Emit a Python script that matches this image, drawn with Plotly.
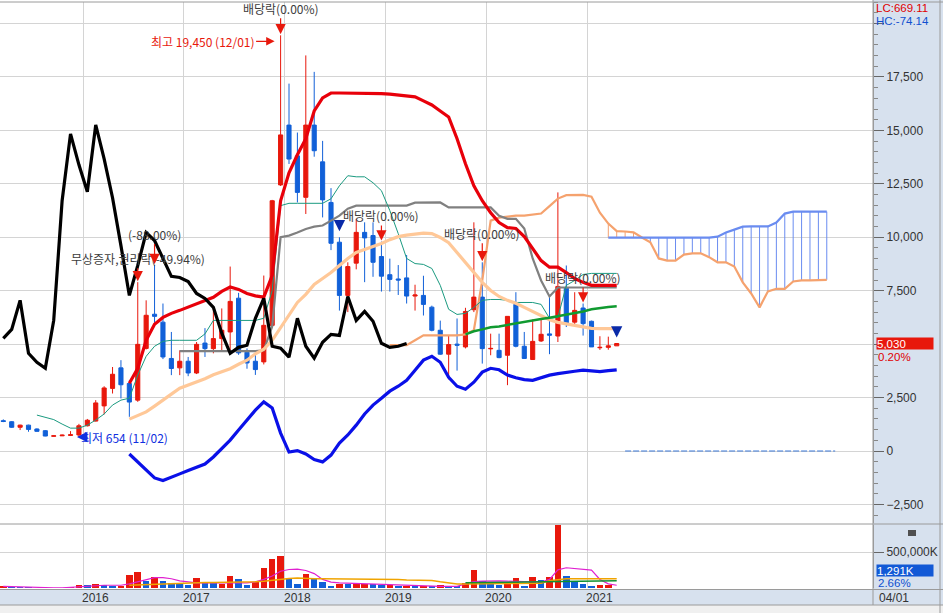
import plotly.graph_objects as go
import pandas as pd

# ---------------- data (monthly, 2015-03 .. 2021-04) ----------------
months = pd.period_range("2015-03", "2021-04", freq="M").strftime("%Y-%m").tolist()
n = len(months)
idx = list(range(n))

opens = [1420,1370,1110,1210,1030,950,690,710,730,750,
         1180,1400,2110,2930,3890,3160,2380,4800,6400,6030,
         4330,3890,4200,3650,5050,4790,5260,5570,7150,4620,
         4200,4170,5880,12450,15250,13810,11870,15250,13530,11630,
         9770,7280,8790,10230,10080,9100,8250,8050,8100,7250,
         7280,6730,5650,4530,5000,4870,6610,7200,4780,4710,
         4480,6860,4900,4280,5150,5480,5380,7620,6030,6690,
         6070,4830,4850,4920]
highs = [1480,1400,1230,1230,1060,980,740,770,930,1270,
         1500,2380,3030,3930,4250,3310,7900,7050,8700,6900,
         5570,4710,4400,5100,5750,6670,6670,8630,7400,4800,
         4600,8210,11750,19450,17190,14900,18510,17740,14510,12300,
         10000,8830,10860,10700,10700,9800,9000,8700,9170,7780,
         8200,6800,6100,5400,6200,6700,10700,8830,5490,5490,
         6300,7430,5570,6150,6200,7200,12100,8680,7430,6900,
         6100,5370,5350,5030]
lows = [1350,1080,980,900,900,690,680,700,700,654,
        1150,1380,1710,2690,2460,1600,2300,4750,6000,4300,
        3550,3550,3500,3600,4400,4570,4700,4710,4500,3850,
        3560,4050,5800,12400,13430,11630,11090,13770,10930,9400,
        6570,6500,8500,7900,8150,7460,7460,7300,6900,6570,
        6340,5600,4500,3350,3760,4800,6500,4090,4480,4340,
        3080,4850,4330,4280,5100,4530,5100,5800,5900,5400,
        4870,4730,4740,4920]
closes = [1380,1110,1210,1010,920,700,710,740,760,1180,
          1440,2250,2950,3590,3100,2290,4990,6350,6300,4400,
          3860,4200,3650,4990,4790,5260,5650,7000,4590,4120,
          3810,5880,11710,14790,13660,12100,15250,14050,11750,9720,
          7280,8630,10230,9970,8830,8180,8030,8000,7250,7300,
          6860,5650,4530,4980,4950,6530,7200,4790,4800,4370,
          6300,4900,4330,5130,5460,5420,7700,5930,6580,5960,
          4870,4850,4920,5030]

# volume (thousand shares) and bar colour as shown (U = red, D = blue)
volumes = [23800,19000,9500,9500,2000,2000,2000,4000,19000,47600,
           47600,61900,42900,23800,33300,176000,219000,100000,147600,90500,
           76200,52400,38100,133300,71400,71400,52400,161900,119000,47600,
           85700,276000,404800,438100,119000,61900,190500,119000,81000,33300,
           61900,52400,57100,52400,52400,42900,42900,28600,23800,23800,
           28600,23800,38100,23800,23800,76200,247600,95200,57100,38100,
           71400,142900,33300,157100,114300,157100,871400,161900,90500,52400,
           33300,47600,42900,1291]
volume_dir = list("UDDDDDUUUU" "DUDDUUUDUD" "DDDUDDUUDD" "UUUUDDUDDD"
                  "UDUUDDUDUD" "UDUDDUUDDD" "UUDUDUUDDD" "DUUD")
vol_ma_short = [23800,19000,14300,9500,2000,2000,2000,2000,9500,23800,
                28600,33300,38100,38100,38100,57100,85700,119000,142900,142900,
                128600,100000,81000,71400,71400,71400,71400,71400,71400,71400,
                85700,119000,166700,233300,257100,261900,242900,200000,119000,81000,
                71400,66700,61900,57100,54800,52400,47600,42900,38100,33300,
                28600,23800,23800,23800,23800,57100,90500,95200,100000,100000,
                95200,92900,90500,85700,81000,119000,252400,281000,271400,261900,
                247600,119000,57100,38100]
vol_ma_long_start = 15
vol_ma_long = [38100,42900,47600,52400,57100,61900,66700,
               76200,76200,76200,76200,76200,76200,
               85700,85700,85700,95200,109500,123800,133300,138000,
               128600,128600,128600,128600,128600,128600,128600,128600,128600,
               119000,119000,119000,109500,104800,104800,104800,85700,66700,
               57100,57100,57100,57100,57100,57100,57100,57100,57100,
               66700,66700,100000,119000,
               128600,128600,128600,128600,128600,128600,128600]
vol_ma_3_months = ["2019-10", "2020-04", "2020-08", "2021-04"]
vol_ma_3 = [71400, 81000, 90500, 100000]

# lagging line (starts 2015-03)
lagging = [5270,5690,7050,4570,4150,3870,6110,11710,14840,13390,
           12130,15260,13670,11850,9610,7280,8680,10220,9850,9050,
           8170,8120,7930,7370,7140,6720,5510,4570,4850,4950,
           6210,7140,4900,4810,4390,6210,4900,4340,5090,5460,
           5410,7230,6110,6530,6070,5040,4850,4900,5030]
# conversion line (starts 2015-07)
conv_start = 4
conversion = [1680,1560,1470,1260,1070,1070,1210,1450,1730,2150,
              2380,2470,3550,4430,4900,5130,5180,5180,5180,5180,
              5480,6110,6110,6110,6110,6110,6110,6210,7510,11480,
              11590,11590,11590,11590,11590,11800,12410,12880,12830,12830,
              12550,12180,11250,10170,9010,8770,8730,8540,7750,6630,
              6390,6440,6720,7050,7090,7090,7050,6950,6950,6950,
              6860,6210,6250,7750,7980,8260,8310,8310,8310,8310]
# base line (starts 2016-12)
base_start = 21
base_line = [4670]*10 + [4710,5830,10000,10080,10220,10390,10500,10550,10780,11010,11340] \
            + [11480]*7 + [11620,11630,11630,11630] + [11400]*6 \
            + [11010,10860,10860,10410,9010,7980,7230] + [7650]*8
# bands (start 2016-06)
band_start = 15
band_upper = [3170,3870,5180,5930,6250,6440,6580,6740,6910,7050,7190,7470,7670,7560,7370,7260,7200,8210,
              11710,13020,13860,14610,15910,16520,16750,16750,16750,16750,16750,16750,16720,16700,16660,16610,16570,16380,
              16190,15910,15630,14610,13440,12410,11710,11150,10690,10450,10410,10030,9470,8910,8600,8600,8350,8070,7890,7750,7750,7750,7750]
band_mid = [1490,1660,1830,2100,2400,2660,2940,3080,3220,3380,3570,3710,3850,4060,4250,4550,4760,5180,
            5790,6350,6950,7330,7790,8070,8350,8680,9010,9290,9430,9570,9710,9890,10030,10100,10150,10190,
            10170,9990,9750,9290,8820,8400,7890,7510,7230,7050,6910,6720,6530,6350,6140,6020,5950,5900,5830,5740,5730,5730,5730]
band_lower = [-140,-510,-840,-1260,-1380,-1240,-1070,-910,-750,-610,-280,90,510,980,1450,1910,2300,2010,
              840,-50,20,-140,-400,-510,-190,370,750,1210,1730,2150,2470,2800,3030,3310,3780,4250,
              4430,4150,3450,3030,2890,3220,3690,3870,3800,3550,3430,3340,3310,3430,3550,3620,3690,3730,3780,3730,3710,3760,3800]
# long moving average (starts 2019-10)
ma_long_start = 55
ma_long = [5460,5600,5690,5790,5830,5900,6000,6070,6140,6180,6230,6300,6390,6460,6530,6630,6700,6740,6770]
# leading span B (starts 2019-01, runs into the future)
spanB_start = 46
spanB = [4950,4950,4950,5180,5410,5410,5410,5410,5410,5460,5650,
         7980,10780,10920,10970,11010,11010,11060,11110,11460,11810,11970,11980,11980,11900,11150,10640,10290,
         10270,10230,9990,9770,9010,8910,8910,9190,9250,9250,9070,8830,8830,8630,7890,7370,6720,7470,7590,7590,
         7930,7980,7980,7980,8010]
# leading span A (future part only, starts 2021-03)
spanA_start = 72
spanA = [9980]*13 + [10030,10220,10360,10500,10510,10510,10510,10690,11110] + [11200]*5
zero_dash_value = 0
zero_dash_span = (74, 99)

years = ["2016", "2017", "2018", "2019", "2020", "2021"]
price_ticks = [-2500, 0, 2500, 5000, 7500, 10000, 12500, 15000, 17500, 20000]
hidden_tick_labels = (5000, 20000)

# markers
events = [(33, "배당락(0.00%)", -27), (16, "무상증자,권리락(-49.94%)", -24), (18, "(-88.00%)", -31),
          (45, "배당락(0.00%)", -26), (57, "배당락(0.00%)", -29), (69, "배당락(0.00%)", -26)]
sell_signals = [40, 73]
buy_signals = [32, 66]

# ---------------- layout geometry ----------------
W, H = 943, 613
ML, MR, MT, MB = 0, 70, 2, 25
PW, PH = W - ML - MR, H - MT - MB
BOTTOM_Y = H - MB


def px(X):
    return X / PW


def py(Y):
    return (BOTTOM_Y - Y) / PH


RED = "#e8180c"
BLUE = "#1160d8"
KFONT = "Noto Sans CJK KR"
NFONT = "Liberation Sans"

fig = go.Figure()


def rng(start, vals):
    return list(range(start, start + len(vals)))


# cloud hatch
ho_x, ho_y, hb_x, hb_y = [], [], [], []
for k, a in enumerate(spanA):
    i = spanA_start + k
    b = spanB[i - spanB_start]
    if abs(a - b) < 30:
        continue
    if b > a:
        ho_x += [i, i, None]; ho_y += [a, b, None]
    else:
        hb_x += [i, i, None]; hb_y += [a, b, None]
fig.add_trace(go.Scatter(x=ho_x, y=ho_y, mode="lines", line=dict(color="#f4a070", width=1)))
fig.add_trace(go.Scatter(x=hb_x, y=hb_y, mode="lines", line=dict(color="#6a8cf0", width=1)))

fig.add_trace(go.Scatter(x=rng(spanB_start, spanB), y=spanB, mode="lines", line=dict(color="#f5a26e", width=2.2)))
fig.add_trace(go.Scatter(x=rng(spanA_start, spanA), y=spanA, mode="lines", line=dict(color="#6a8cf0", width=2.2)))
fig.add_trace(go.Scatter(x=list(zero_dash_span), y=[zero_dash_value]*2, mode="lines",
                         line=dict(color="#3a78d8", width=1, dash="6px,2px")))
fig.add_trace(go.Scatter(x=rng(base_start, base_line), y=base_line, mode="lines", line=dict(color="#808080", width=2.2)))
fig.add_trace(go.Scatter(x=rng(conv_start, conversion), y=conversion, mode="lines", line=dict(color="#1a9a80", width=1)))
fig.add_trace(go.Scatter(x=rng(band_start, band_mid), y=band_mid, mode="lines", line=dict(color="#ffc898", width=3.2)))
fig.add_trace(go.Scatter(x=rng(band_start, band_upper), y=band_upper, mode="lines", line=dict(color="#e8000a", width=3.2)))
fig.add_trace(go.Scatter(x=rng(band_start, band_lower), y=band_lower, mode="lines", line=dict(color="#0a10e8", width=3.2)))
fig.add_trace(go.Scatter(x=rng(ma_long_start, ma_long), y=ma_long, mode="lines", line=dict(color="#109a30", width=2.5)))
fig.add_trace(go.Scatter(x=rng(0, lagging), y=lagging, mode="lines", line=dict(color="#000000", width=3.2)))

fig.add_trace(go.Candlestick(
    x=idx, open=opens, high=highs, low=lows, close=closes,
    increasing=dict(line=dict(color=RED, width=1), fillcolor=RED),
    decreasing=dict(line=dict(color=BLUE, width=1), fillcolor=BLUE),
    whiskerwidth=0, yaxis="y"))

# volume panel
vcol = [RED if d == "U" else BLUE for d in volume_dir]
fig.add_trace(go.Bar(x=idx, y=volumes, marker=dict(color=vcol, line=dict(width=0)), width=0.78, yaxis="y2"))
fig.add_trace(go.Scatter(x=idx, y=vol_ma_short, mode="lines", line=dict(color="#e020d0", width=1.2), yaxis="y2"))
fig.add_trace(go.Scatter(x=rng(vol_ma_long_start, vol_ma_long), y=vol_ma_long, mode="lines",
                         line=dict(color="#f0a400", width=1.5), yaxis="y2"))
fig.add_trace(go.Scatter(x=[months.index(m) for m in vol_ma_3_months], y=vol_ma_3, mode="lines",
                         line=dict(color="#109030", width=1.5), yaxis="y2"))

year_pos = [months.index(y + "-01") - 0.5 for y in years]

annotations = []
for i, label, ay in events:
    annotations.append(dict(x=i, y=highs[i], xref="x", yref="y", text=label, showarrow=True, ax=0, ay=ay,
                            arrowhead=2, arrowsize=1.7, arrowwidth=1.2, arrowcolor=RED, standoff=1,
                            font=dict(family=KFONT, size=12, color="#3c3c3c")))
for i in sell_signals:
    annotations.append(dict(x=i, y=highs[i], xref="x", yref="y", text="", showarrow=True, ax=0, ay=-11,
                            arrowhead=2, arrowsize=0.75, arrowwidth=3, arrowcolor="#0a2aa8", standoff=6))
for i in buy_signals:
    annotations.append(dict(x=i, y=lows[i], xref="x", yref="y", text="", showarrow=True, ax=0, ay=11,
                            arrowhead=2, arrowsize=0.75, arrowwidth=3, arrowcolor="#d8102c", standoff=8))
hi_i = highs.index(max(highs))
annotations.append(dict(x=hi_i, y=highs[hi_i], xref="x", yref="y", yshift=-6,
                        text=f"최고 {max(highs):,} (12/01)", showarrow=True, ax=-78, ay=0,
                        arrowhead=2, arrowsize=1.4, arrowwidth=1.2, arrowcolor=RED, standoff=6,
                        font=dict(family=KFONT, size=12, color=RED)))
lo_i = lows.index(min(lows))
annotations.append(dict(x=lo_i, y=lows[lo_i], xref="x", yref="y", xshift=-2,
                        text=f"최저 {min(lows):,} (11/02)", showarrow=True, ax=48, ay=0,
                        arrowhead=2, arrowsize=1.4, arrowwidth=1.5, arrowcolor="#1030e0", standoff=0,
                        font=dict(family=KFONT, size=12, color="#1030e0")))
for yp, yl in zip(year_pos, years):
    annotations.append(dict(x=yp, y=py(598), xref="x", yref="paper", text=yl, showarrow=False,
                            xanchor="left", yanchor="middle", xshift=-3,
                            font=dict(family=NFONT, size=12, color="#333")))
# right-axis info
last = closes[-1]
chg_pct = 0.20
small = dict(family=NFONT, size=11.5)
annotations += [
    dict(x=px(PW + 1), y=py(8), xref="paper", yref="paper", text="LC:669.11", showarrow=False,
         xanchor="left", yanchor="middle", font=dict(small, color="#e00000")),
    dict(x=px(PW + 1), y=py(21), xref="paper", yref="paper", text="HC:-74.14", showarrow=False,
         xanchor="left", yanchor="middle", font=dict(small, color="#1050d0")),
    dict(x=px(PW + 3), y=last, xref="paper", yref="y", text=f"{last:,}", showarrow=False,
         xanchor="left", yanchor="middle", bgcolor=RED, width=56, height=11, align="left", borderpad=0,
         font=dict(small, color="white")),
    dict(x=px(PW + 3), y=last, xref="paper", yref="y", yshift=-13, text=f"{chg_pct:.2f}%", showarrow=False,
         xanchor="left", yanchor="middle", font=dict(small, color="#e00000")),
    dict(x=px(PW + 3), y=py(570), xref="paper", yref="paper", text=f"{volumes[-1]:,}K", showarrow=False,
         xanchor="left", yanchor="middle", bgcolor="#1259d6", width=56, height=11, align="left", borderpad=0,
         font=dict(small, color="white")),
    dict(x=px(PW + 3), y=py(583), xref="paper", yref="paper", text="2.66%", showarrow=False,
         xanchor="left", yanchor="middle", font=dict(small, color="#1050d0")),
    dict(x=px(PW + 4), y=py(598), xref="paper", yref="paper", text="04/01", showarrow=False,
         xanchor="left", yanchor="middle", font=dict(family=NFONT, size=12, color="#333")),
]

shapes = [
    dict(type="rect", xref="paper", yref="paper", x0=px(PW), x1=px(W), y0=py(H), y1=py(0),
         fillcolor="#d7e1ee", line=dict(width=0), layer="below"),
    dict(type="rect", xref="paper", yref="paper", x0=0, x1=px(W), y0=py(605), y1=py(590),
         fillcolor="#d7e1ee", line=dict(width=0), layer="below"),
    dict(type="rect", xref="paper", yref="paper", x0=0, x1=px(W), y0=py(H), y1=py(605),
         fillcolor="#f0f0f0", line=dict(width=0), layer="below"),
    dict(type="line", xref="paper", yref="paper", x0=0, x1=px(W), y0=py(605), y1=py(605),
         line=dict(color="#9a9a9a", width=1)),
    dict(type="line", xref="paper", yref="paper", x0=0, x1=px(W), y0=py(589.5), y1=py(589.5),
         line=dict(color="#9a9a9a", width=1)),
    dict(type="line", xref="paper", yref="paper", x0=0, x1=px(W), y0=py(524), y1=py(524),
         line=dict(color="#9a9a9a", width=1)),
    dict(type="line", xref="paper", yref="paper", x0=0, x1=px(W), y0=py(2), y1=py(2),
         line=dict(color="#9a9a9a", width=1)),
    dict(type="line", xref="paper", yref="paper", x0=px(940), x1=px(940), y0=py(H), y1=py(0),
         line=dict(color="#9a9a9a", width=1)),
    dict(type="line", xref="paper", yref="paper", x0=px(PW), x1=px(PW), y0=py(605), y1=py(0),
         line=dict(color="#9a9a9a", width=1)),
    dict(type="rect", xref="paper", yref="paper", x0=px(908), x1=px(916), y0=py(536), y1=py(530),
         fillcolor="#505050", line=dict(width=0)),
]

axis_font = dict(family=NFONT, size=12, color="#333")
fig.update_layout(
    width=W, height=H, autosize=False,
    margin=dict(l=ML, r=MR, t=MT, b=MB),
    paper_bgcolor="white", plot_bgcolor="white",
    showlegend=False, hovermode=False, bargap=0,
    annotations=annotations, shapes=shapes,
    xaxis=dict(domain=[0, 1], range=[-0.393, 103.5], anchor="y2",
               tickvals=year_pos, showticklabels=False, ticks="",
               showgrid=True, gridcolor="#d4d4d4", gridwidth=1, zeroline=False, showline=False,
               rangeslider=dict(visible=False), fixedrange=True),
    yaxis=dict(domain=[py(523), 1], range=[-3369, 21009], side="right", anchor="x",
               tickvals=price_ticks,
               ticktext=[("" if v in hidden_tick_labels else f"{v:,}".replace("-", "−")) for v in price_ticks],
               showgrid=True, gridcolor="#d4d4d4", zeroline=False,
               ticks="outside", ticklen=10, tickcolor="#666", tickfont=axis_font,
               showline=True, linecolor="#9a9a9a",
               minor=dict(dtick=500, tick0=0, ticks="outside", ticklen=4, tickcolor="#888", showgrid=False),
               fixedrange=True),
    yaxis2=dict(domain=[0, py(525)], range=[0, 875000], side="right", anchor="x",
                tickvals=[500000], ticktext=["500,000K"],
                showgrid=True, gridcolor="#d4d4d4", zeroline=False,
                ticks="outside", ticklen=10, tickcolor="#666", tickfont=axis_font,
                showline=True, linecolor="#9a9a9a", fixedrange=True),
)

fig.write_html("out.html", config={"displayModeBar": False, "staticPlot": True},
               post_script="document.body.style.margin='0';document.body.style.overflow='hidden';")
